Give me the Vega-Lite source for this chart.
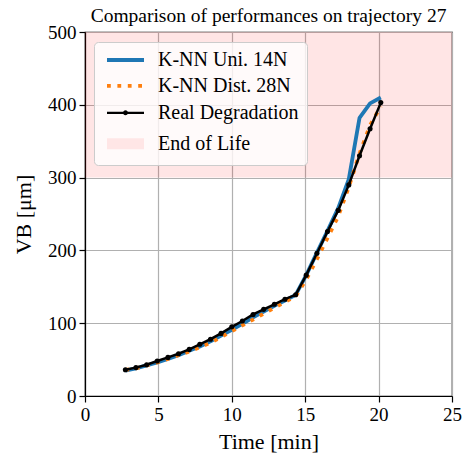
{
  "$schema": "https://vega.github.io/schema/vega-lite/v6.json",
  "width": 367,
  "height": 364,
  "autosize": {"type": "none"},
  "padding": {"left": 85, "top": 32, "right": 12, "bottom": 60},
  "background": "white",
  "title": {
    "text": "Comparison of performances on trajectory 27",
    "font": "Liberation Serif",
    "fontSize": 19.5,
    "fontWeight": "normal",
    "color": "black",
    "frame": "group",
    "anchor": "middle",
    "offset": -3.5
  },
  "datasets": {
    "span": [{"series": "End of Life", "t0": 0, "t1": 25, "v0": 300, "v1": 500}],
    "curves": [
      {"series": "K-NN Uni. 14N", "t": 2.75, "vb": 35},
      {"series": "K-NN Uni. 14N", "t": 3.47, "vb": 38},
      {"series": "K-NN Uni. 14N", "t": 4.2, "vb": 42},
      {"series": "K-NN Uni. 14N", "t": 4.92, "vb": 46},
      {"series": "K-NN Uni. 14N", "t": 5.65, "vb": 51},
      {"series": "K-NN Uni. 14N", "t": 6.37, "vb": 56},
      {"series": "K-NN Uni. 14N", "t": 7.1, "vb": 62},
      {"series": "K-NN Uni. 14N", "t": 7.82, "vb": 68},
      {"series": "K-NN Uni. 14N", "t": 8.55, "vb": 75},
      {"series": "K-NN Uni. 14N", "t": 9.27, "vb": 83},
      {"series": "K-NN Uni. 14N", "t": 10.0, "vb": 91},
      {"series": "K-NN Uni. 14N", "t": 10.72, "vb": 99},
      {"series": "K-NN Uni. 14N", "t": 11.45, "vb": 108},
      {"series": "K-NN Uni. 14N", "t": 12.17, "vb": 116},
      {"series": "K-NN Uni. 14N", "t": 12.9, "vb": 124},
      {"series": "K-NN Uni. 14N", "t": 13.62, "vb": 131},
      {"series": "K-NN Uni. 14N", "t": 14.35, "vb": 139},
      {"series": "K-NN Uni. 14N", "t": 15.07, "vb": 166},
      {"series": "K-NN Uni. 14N", "t": 15.8, "vb": 197},
      {"series": "K-NN Uni. 14N", "t": 16.52, "vb": 227},
      {"series": "K-NN Uni. 14N", "t": 17.25, "vb": 258},
      {"series": "K-NN Uni. 14N", "t": 17.97, "vb": 298},
      {"series": "K-NN Uni. 14N", "t": 18.7, "vb": 382},
      {"series": "K-NN Uni. 14N", "t": 19.42, "vb": 402},
      {"series": "K-NN Uni. 14N", "t": 20.15, "vb": 410},
      {"series": "K-NN Dist. 28N", "t": 2.75, "vb": 36},
      {"series": "K-NN Dist. 28N", "t": 3.47, "vb": 38},
      {"series": "K-NN Dist. 28N", "t": 4.2, "vb": 42},
      {"series": "K-NN Dist. 28N", "t": 4.92, "vb": 46},
      {"series": "K-NN Dist. 28N", "t": 5.65, "vb": 51},
      {"series": "K-NN Dist. 28N", "t": 6.37, "vb": 56},
      {"series": "K-NN Dist. 28N", "t": 7.1, "vb": 61},
      {"series": "K-NN Dist. 28N", "t": 7.82, "vb": 67},
      {"series": "K-NN Dist. 28N", "t": 8.55, "vb": 73},
      {"series": "K-NN Dist. 28N", "t": 9.27, "vb": 81},
      {"series": "K-NN Dist. 28N", "t": 10.0, "vb": 89},
      {"series": "K-NN Dist. 28N", "t": 10.72, "vb": 97},
      {"series": "K-NN Dist. 28N", "t": 11.45, "vb": 105},
      {"series": "K-NN Dist. 28N", "t": 12.17, "vb": 113},
      {"series": "K-NN Dist. 28N", "t": 12.9, "vb": 121},
      {"series": "K-NN Dist. 28N", "t": 13.62, "vb": 129},
      {"series": "K-NN Dist. 28N", "t": 14.35, "vb": 137},
      {"series": "K-NN Dist. 28N", "t": 15.07, "vb": 160},
      {"series": "K-NN Dist. 28N", "t": 15.8, "vb": 188},
      {"series": "K-NN Dist. 28N", "t": 16.52, "vb": 217},
      {"series": "K-NN Dist. 28N", "t": 17.25, "vb": 247},
      {"series": "K-NN Dist. 28N", "t": 17.97, "vb": 287},
      {"series": "K-NN Dist. 28N", "t": 18.7, "vb": 333},
      {"series": "K-NN Dist. 28N", "t": 19.42, "vb": 372},
      {"series": "K-NN Dist. 28N", "t": 20.15, "vb": 398},
      {"series": "Real Degradation", "t": 2.75, "vb": 36},
      {"series": "Real Degradation", "t": 3.47, "vb": 39},
      {"series": "Real Degradation", "t": 4.2, "vb": 43},
      {"series": "Real Degradation", "t": 4.92, "vb": 48},
      {"series": "Real Degradation", "t": 5.65, "vb": 53},
      {"series": "Real Degradation", "t": 6.37, "vb": 58},
      {"series": "Real Degradation", "t": 7.1, "vb": 64},
      {"series": "Real Degradation", "t": 7.82, "vb": 71},
      {"series": "Real Degradation", "t": 8.55, "vb": 78},
      {"series": "Real Degradation", "t": 9.27, "vb": 86},
      {"series": "Real Degradation", "t": 10.0, "vb": 95},
      {"series": "Real Degradation", "t": 10.72, "vb": 103},
      {"series": "Real Degradation", "t": 11.45, "vb": 112},
      {"series": "Real Degradation", "t": 12.17, "vb": 119},
      {"series": "Real Degradation", "t": 12.9, "vb": 126},
      {"series": "Real Degradation", "t": 13.62, "vb": 133},
      {"series": "Real Degradation", "t": 14.35, "vb": 139},
      {"series": "Real Degradation", "t": 15.07, "vb": 166},
      {"series": "Real Degradation", "t": 15.8, "vb": 196},
      {"series": "Real Degradation", "t": 16.52, "vb": 226},
      {"series": "Real Degradation", "t": 17.25, "vb": 255},
      {"series": "Real Degradation", "t": 17.97, "vb": 290},
      {"series": "Real Degradation", "t": 18.7, "vb": 330},
      {"series": "Real Degradation", "t": 19.42, "vb": 367},
      {"series": "Real Degradation", "t": 20.15, "vb": 403}
    ]
  },
  "layer": [
    {
      "data": {"name": "span"},
      "mark": {"type": "rect", "color": "#ff0000", "opacity": 0.1},
      "encoding": {
        "x": {"field": "t0", "type": "quantitative", "scale": {"domain": [0, 25], "nice": false}, "axis": {"values": [0, 5, 10, 15, 20, 25], "title": "Time [min]", "titleFontWeight": "normal", "titlePadding": 7}},
        "x2": {"field": "t1"},
        "y": {"field": "v0", "type": "quantitative", "scale": {"domain": [0, 500], "nice": false}, "axis": {"values": [0, 100, 200, 300, 400, 500], "title": "VB [μm]", "titleFontWeight": "normal", "titlePadding": 12}},
        "y2": {"field": "v1"}
      }
    },
    {
      "data": {"name": "curves"},
      "transform": [{"filter": "datum.series === 'K-NN Uni. 14N'"}],
      "mark": {"type": "line", "color": "#1f77b4", "strokeWidth": 3.8, "strokeJoin": "round"},
      "encoding": {
        "x": {"field": "t", "type": "quantitative"},
        "y": {"field": "vb", "type": "quantitative"}
      }
    },
    {
      "data": {"name": "curves"},
      "transform": [{"filter": "datum.series === 'K-NN Dist. 28N'"}],
      "mark": {"type": "line", "color": "#ff7f0e", "strokeWidth": 3.8, "strokeDash": [3.8, 6.6], "strokeCap": "butt"},
      "encoding": {
        "x": {"field": "t", "type": "quantitative"},
        "y": {"field": "vb", "type": "quantitative"}
      }
    },
    {
      "data": {"name": "curves"},
      "transform": [{"filter": "datum.series === 'Real Degradation'"}],
      "mark": {"type": "line", "color": "#000000", "strokeWidth": 2.5, "point": {"filled": true, "size": 26, "color": "#000000"}},
      "encoding": {
        "x": {"field": "t", "type": "quantitative"},
        "y": {"field": "vb", "type": "quantitative"}
      }
    },
    {
      "data": {"name": "curves"},
      "transform": [{"filter": "false"}],
      "mark": {"type": "point", "filled": false, "opacity": 1, "size": 100, "strokeWidth": 3.8},
      "encoding": {
        "x": {"field": "t", "type": "quantitative"},
        "y": {"field": "vb", "type": "quantitative"},
        "stroke": {
          "field": "series",
          "type": "nominal",
          "scale": {
            "domain": ["K-NN Uni. 14N", "K-NN Dist. 28N", "Real Degradation", "End of Life"],
            "range": ["#1f77b4", "#ff7f0e", "transparent", "transparent"]
          }
        },
        "fill": {
          "field": "series",
          "type": "nominal",
          "scale": {
            "domain": ["K-NN Uni. 14N", "K-NN Dist. 28N", "Real Degradation", "End of Life"],
            "range": ["transparent", "transparent", "#000000", "#ffe6e6"]
          }
        },
        "shape": {
          "field": "series",
          "type": "nominal",
          "scale": {
            "domain": ["K-NN Uni. 14N", "K-NN Dist. 28N", "Real Degradation", "End of Life"],
            "range": [
              "M-1,0H6.4",
              "M-1,0H6.4",
              "M-1,-0.22H6.4V0.22H-1Z M2.2,0A0.5,0.5,0,1,1,3.2,0A0.5,0.5,0,1,1,2.2,0Z",
              "M-1,-1.1H6.4V1.1H-1Z"
            ]
          }
        },
        "strokeDash": {
          "field": "series",
          "type": "nominal",
          "scale": {
            "domain": ["K-NN Uni. 14N", "K-NN Dist. 28N", "Real Degradation", "End of Life"],
            "range": [[1, 0], [3.8, 6.6], [1, 0], [1, 0]]
          }
        }
      }
    }
  ],
  "config": {
    "view": {"stroke": "#000000", "strokeWidth": 1.2},
    "legend": {
      "orient": "none",
      "legendX": 9,
      "legendY": 10,
      "title": null,
      "labelFont": "Liberation Serif",
      "labelFontSize": 20,
      "labelColor": "black",
      "symbolSize": 100,
      "symbolStrokeWidth": 3.8,
      "symbolOpacity": 1,
      "padding": 8,
      "rowPadding": 5.9,
      "labelOffset": 36,
      "fillColor": "rgba(255,255,255,0.8)",
      "strokeColor": "#cccccc",
      "cornerRadius": 4
    },
    "axis": {
      "labelFont": "Liberation Serif",
      "labelFontSize": 19,
      "labelColor": "black",
      "labelFlush": false,
      "labelOverlap": false,
      "labelPadding": 3,
      "titleFont": "Liberation Serif",
      "titleFontSize": 22,
      "titleFontWeight": "normal",
      "titleColor": "black",
      "domainColor": "#000000",
      "domainWidth": 1.2,
      "tickColor": "#000000",
      "tickSize": 6,
      "tickWidth": 1.2,
      "gridColor": "#b0b0b0",
      "gridWidth": 1.2,
      "gridOpacity": 1
    }
  }
}
